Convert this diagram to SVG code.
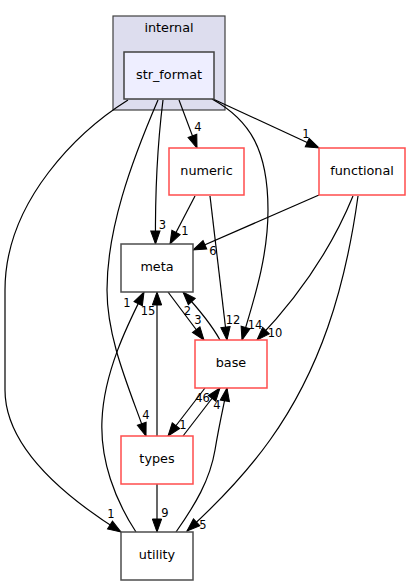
<svg xmlns="http://www.w3.org/2000/svg" width="411" height="585" viewBox="0 0 411 585">
<style>
text{font-family:"DejaVu Sans",sans-serif;fill:#000}
.nt{font-size:12.8px;text-anchor:middle}
.et{font-size:11.5px;text-anchor:middle}
.e{fill:none;stroke:#000;stroke-width:1.2;marker-end:url(#ah)}
.red{fill:#fff;stroke:#ff4d4d;stroke-width:1.5}
.gray{fill:#fff;stroke:#4d4d4d;stroke-width:1.5}
</style>
<defs>
<marker id="ah" markerUnits="userSpaceOnUse" markerWidth="14" markerHeight="10" refX="13" refY="4.65" orient="auto" overflow="visible">
<path d="M0,0 L13,4.65 L0,9.3 z" fill="#000" stroke="#000" stroke-width="1"/>
</marker>
</defs>
<rect width="411" height="585" fill="#fff"/>
<g id="cluster_internal">
<rect x="113" y="16" width="112" height="94" fill="#ddddee" stroke="#404040" stroke-width="1.2"/>
<text class="nt" x="169" y="31.5">internal</text>
</g>
<g id="connectors">
<path class="e" d="M179,100 L197,148"/>
<text class="et" x="198" y="131">4</text>
<path class="e" d="M213,99 L319,148"/>
<text class="et" x="306" y="137.5">1</text>
<path class="e" d="M163,100 C158,140 155,190 155.5,244"/>
<text class="et" x="162.5" y="229">3</text>
<path class="e" d="M212,99 C250,120 268,150 268,210 C268,260 252,305 242,340"/>
<text class="et" x="255" y="328.5">14</text>
<path class="e" d="M210,196 L227,340"/>
<text class="et" x="233" y="324">12</text>
<path class="e" d="M353,196 C335,240 305,290 257,340"/>
<text class="et" x="275" y="337">10</text>
<path class="e" d="M319,195 L193,250"/>
<text class="et" x="213" y="254.5">6</text>
<path class="e" d="M358,196 C345,290 320,370 270,440 C245,475 210,510 187,531"/>
<text class="et" x="203" y="529">5</text>
<path class="e" d="M195,196 L170,244"/>
<text class="et" x="185" y="235">1</text>
<path class="e" d="M168,292 L204,340"/>
<text class="et" x="198" y="324">3</text>
<path class="e" d="M220,340 C210,322 195,305 183,292"/>
<text class="et" x="187.5" y="315">2</text>
<path class="e" d="M157,436 L157,292"/>
<text class="et" x="148" y="314.5">15</text>
<path class="e" d="M136,532 C115,500 100,460 102,420 C104,370 130,320 144,292"/>
<text class="et" x="127" y="307">1</text>
<path class="e" d="M158,100 C130,165 107,230 107,290 C107,340 130,390 146,436"/>
<text class="et" x="146" y="419">4</text>
<path class="e" d="M128,100 C80,130 5,200 5,290 L5,390 C5,450 70,500 121,532"/>
<text class="et" x="111" y="517.5">1</text>
<path class="e" d="M157,484 L157,532"/>
<text class="et" x="165" y="517">9</text>
<path class="e" d="M205,388 L168,436"/>
<text class="et" x="183" y="429">1</text>
<path class="e" d="M183,436 L220,388"/>
<text class="et" x="217" y="408.5">4</text>
<path class="e" d="M176,532 C195,505 210,480 215,450 C220,420 225,400 227,388"/>
<text class="et" x="202.5" y="402">46</text>
</g>
<g id="str_format">
<rect x="124" y="52" width="90" height="47" fill="#eeeeff" stroke="#404040" stroke-width="1.5"/>
<text class="nt" x="169" y="79">str_format</text>
</g>
<g id="numeric">
<rect class="red" x="169" y="148" width="75" height="47"/>
<text class="nt" x="206.5" y="174.5">numeric</text>
</g>
<g id="functional">
<rect class="red" x="319" y="148" width="86" height="47"/>
<text class="nt" x="362" y="174.5">functional</text>
</g>
<g id="meta">
<rect class="gray" x="121" y="244" width="72" height="48"/>
<text class="nt" x="157" y="271">meta</text>
</g>
<g id="base">
<rect class="red" x="195" y="340" width="72" height="48"/>
<text class="nt" x="231" y="367">base</text>
</g>
<g id="types">
<rect class="red" x="121" y="436" width="72" height="48"/>
<text class="nt" x="157" y="463">types</text>
</g>
<g id="utility">
<rect class="gray" x="121" y="532" width="72" height="48"/>
<text class="nt" x="157" y="559">utility</text>
</g>
</svg>
